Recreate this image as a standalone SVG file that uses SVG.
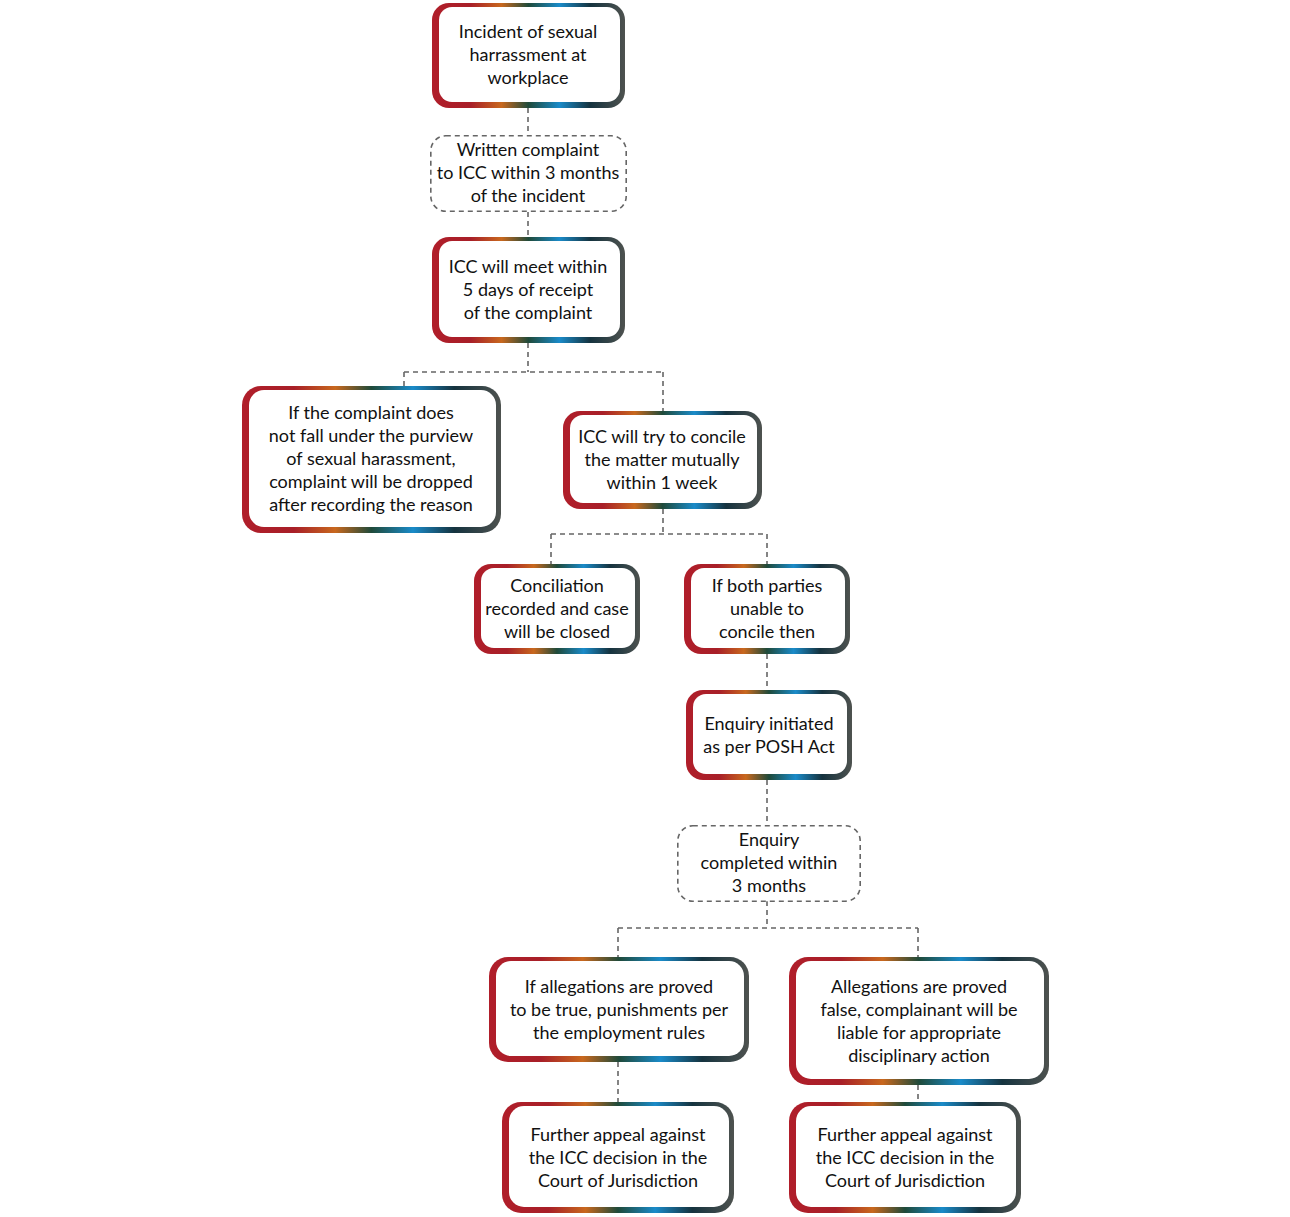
<svg xmlns="http://www.w3.org/2000/svg" width="1290" height="1217" viewBox="0 0 1290 1217">
<defs>
<linearGradient id="g" x1="0" y1="0" x2="1" y2="0">
<stop offset="0" stop-color="#b01e2a"/>
<stop offset="0.2" stop-color="#a81f28"/>
<stop offset="0.36" stop-color="#c8681e"/>
<stop offset="0.5" stop-color="#1f4a3a"/>
<stop offset="0.66" stop-color="#1a8bc9"/>
<stop offset="0.82" stop-color="#15333f"/>
<stop offset="1" stop-color="#4e524f"/>
</linearGradient>
<style>
.o{fill:url(#g)}
.i{fill:#fff}
.d{fill:#fff;stroke:#666;stroke-width:1.6;stroke-dasharray:5 4}
.c{fill:none;stroke:#666;stroke-width:1.6;stroke-dasharray:5 4}
text{font-family:Lato,"Open Sans","Liberation Sans",sans-serif;font-size:18px;fill:#111;text-anchor:middle}
</style>
</defs>
<rect width="1290" height="1217" fill="#fff"/>
<g id="connectors">
<path class="c" d="M528 108V135M528 212V237M528 343V372M404 372H663M404 372V386M663 372V411"/>
<path class="c" d="M663 509V534M551 534H767M551 534V564M767 534V564"/>
<path class="c" d="M767 654V690M767 780V825M767 901V928M618 928H918M618 928V957M918 928V957"/>
<path class="c" d="M618 1062V1102M918 1085V1102"/>
</g>
<g id="n1">
<rect class="o" x="432" y="3" width="193" height="105" rx="17"/>
<rect class="i" x="439" y="7" width="181" height="95" rx="13"/>
<text x="528" y="38">Incident of sexual</text>
<text x="528" y="61">harrassment at</text>
<text x="528" y="84">workplace</text>
</g>
<g id="n2">
<rect class="d" x="430.8" y="135.8" width="195.4" height="75.4" rx="15"/>
<text x="528" y="156">Written complaint</text>
<text x="528" y="179">to ICC within 3 months</text>
<text x="528" y="202">of the incident</text>
</g>
<g id="n3">
<rect class="o" x="432" y="237" width="193" height="106" rx="17"/>
<rect class="i" x="439" y="241" width="181" height="96" rx="13"/>
<text x="528" y="273">ICC will meet within</text>
<text x="528" y="296">5 days of receipt</text>
<text x="528" y="319">of the complaint</text>
</g>
<g id="n4">
<rect class="o" x="242" y="386" width="259" height="147" rx="19"/>
<rect class="i" x="249" y="390" width="247" height="137" rx="15"/>
<text x="371" y="419">If the complaint does</text>
<text x="371" y="442">not fall under the purview</text>
<text x="371" y="465">of sexual harassment,</text>
<text x="371" y="488">complaint will be dropped</text>
<text x="371" y="511">after recording the reason</text>
</g>
<g id="n5">
<rect class="o" x="563" y="411" width="199" height="98" rx="17"/>
<rect class="i" x="570" y="415" width="187" height="88" rx="13"/>
<text x="662" y="443">ICC will try to concile</text>
<text x="662" y="466">the matter mutually</text>
<text x="662" y="489">within 1 week</text>
</g>
<g id="n6">
<rect class="o" x="474" y="564" width="166" height="90" rx="17"/>
<rect class="i" x="481" y="568" width="154" height="80" rx="13"/>
<text x="557" y="592">Conciliation</text>
<text x="557" y="615">recorded and case</text>
<text x="557" y="638">will be closed</text>
</g>
<g id="n7">
<rect class="o" x="684" y="564" width="166" height="90" rx="17"/>
<rect class="i" x="691" y="568" width="154" height="80" rx="13"/>
<text x="767" y="592">If both parties</text>
<text x="767" y="615">unable to</text>
<text x="767" y="638">concile then</text>
</g>
<g id="n8">
<rect class="o" x="686" y="690" width="166" height="90" rx="17"/>
<rect class="i" x="693" y="694" width="154" height="80" rx="13"/>
<text x="769" y="730">Enquiry initiated</text>
<text x="769" y="753">as per POSH Act</text>
</g>
<g id="n9">
<rect class="d" x="677.8" y="825.8" width="182.4" height="75.4" rx="15"/>
<text x="769" y="846">Enquiry</text>
<text x="769" y="869">completed within</text>
<text x="769" y="892">3 months</text>
</g>
<g id="n10">
<rect class="o" x="489" y="957" width="260" height="105" rx="19"/>
<rect class="i" x="496" y="961" width="248" height="95" rx="15"/>
<text x="619" y="993">If allegations are proved</text>
<text x="619" y="1016">to be true, punishments per</text>
<text x="619" y="1039">the employment rules</text>
</g>
<g id="n11">
<rect class="o" x="789" y="957" width="260" height="128" rx="19"/>
<rect class="i" x="796" y="961" width="248" height="118" rx="15"/>
<text x="919" y="993">Allegations are proved</text>
<text x="919" y="1016">false, complainant will be</text>
<text x="919" y="1039">liable for appropriate</text>
<text x="919" y="1062">disciplinary action</text>
</g>
<g id="n12">
<rect class="o" x="502" y="1102" width="232" height="111" rx="19"/>
<rect class="i" x="509" y="1106" width="220" height="101" rx="15"/>
<text x="618" y="1141">Further appeal against</text>
<text x="618" y="1164">the ICC decision in the</text>
<text x="618" y="1187">Court of Jurisdiction</text>
</g>
<g id="n13">
<rect class="o" x="789" y="1102" width="232" height="111" rx="19"/>
<rect class="i" x="796" y="1106" width="220" height="101" rx="15"/>
<text x="905" y="1141">Further appeal against</text>
<text x="905" y="1164">the ICC decision in the</text>
<text x="905" y="1187">Court of Jurisdiction</text>
</g>
</svg>
